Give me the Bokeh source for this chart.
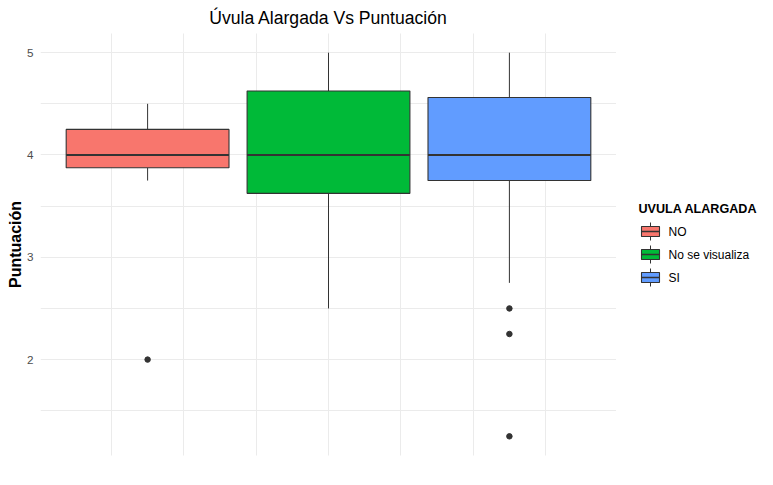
from bokeh.plotting import figure
from bokeh.layouts import row
from bokeh.models import ColumnDataSource, FixedTicker, Grid, Range1d
from bokeh.core.properties import value
from bokeh.embed import file_html
from bokeh.resources import INLINE

# ---- data ----
groups = ["NO", "No se visualiza", "SI"]
colors = ["#F8766D", "#00BA38", "#619CFF"]
q1 = [3.875, 3.625, 3.75]
median = [4.0, 4.0, 4.0]
q3 = [4.25, 4.625, 4.5625]
whisker_low = [3.75, 2.5, 2.75]
whisker_high = [4.5, 5.0, 5.0]
outlier_group = ["NO", "SI", "SI", "SI"]
outlier_value = [2.0, 2.5, 2.25, 1.25]

y_ticks = [2, 3, 4, 5]
y_minor = [1.5, 2.5, 3.5, 4.5]

title_text = "Úvula Alargada Vs Puntuación"
y_label = "Puntuación"
legend_title = "UVULA ALARGADA"

FONT = "Liberation Sans"
EDGE = "#333333"
GRID = "#EBEBEB"
FW, FH = 576, 422

# dodge positions for a single boxplot split by fill
dodge = 0.25
box_w = 0.225
xpos = [(i - (len(groups) - 1) / 2) * dodge for i in range(len(groups))]
out_x = [xpos[groups.index(g)] for g in outlier_group]

src = ColumnDataSource(dict(x=xpos, q1=q1, q3=q3, med=median, lo=whisker_low,
                            hi=whisker_high, color=colors,
                            left=[x - box_w / 2 for x in xpos],
                            right=[x + box_w / 2 for x in xpos]))
osrc = ColumnDataSource(dict(x=out_x, y=outlier_value))

p = figure(frame_width=FW, frame_height=FH, output_backend="svg", toolbar_location=None,
           x_range=Range1d(-0.398, 0.398), y_range=Range1d(1.0625, 5.1875),
           x_axis_location=None, min_border_left=32, min_border_right=0,
           min_border_bottom=17, min_border_top=0, title=title_text,
           margin=(0, 0, 0, 3))
p.outline_line_color = None
p.background_fill_color = "white"

p.title.text_font = FONT
p.title.text_font_size = "17.6px"
p.title.text_font_style = "normal"
p.title.align = "center"
p.title.text_color = "black"
p.title.standoff = 11

# grids
p.ygrid.ticker = FixedTicker(ticks=y_ticks, minor_ticks=y_minor)
p.ygrid.grid_line_color = GRID
p.ygrid.minor_grid_line_color = GRID
p.ygrid.grid_line_width = 1
p.ygrid.minor_grid_line_width = 1
xg = Grid(dimension=0, ticker=FixedTicker(ticks=[-0.2, 0.0, 0.2],
                                          minor_ticks=[-0.3, -0.1, 0.1, 0.3]),
          grid_line_color=GRID, minor_grid_line_color=GRID,
          grid_line_width=1, minor_grid_line_width=1)
p.add_layout(xg)

# y axis
ya = p.yaxis[0]
ya.ticker = FixedTicker(ticks=y_ticks, minor_ticks=y_minor)
ya.axis_line_color = None
ya.major_tick_line_color = None
ya.minor_tick_line_color = None
ya.major_tick_out = 0
ya.major_tick_in = 0
ya.minor_tick_out = 0
ya.minor_tick_in = 0
ya.major_label_text_color = "#4D4D4D"
ya.major_label_text_font = FONT
ya.major_label_text_font_size = "11.7px"
ya.major_label_standoff = 7
ya.axis_label = y_label
ya.axis_label_text_font = FONT
ya.axis_label_text_font_size = "16px"
ya.axis_label_text_font_style = "bold"
ya.axis_label_text_color = "black"
ya.axis_label_standoff = 0

# whiskers
p.segment(x0="x", y0="q3", x1="x", y1="hi", source=src, line_color=EDGE, line_width=1)
p.segment(x0="x", y0="lo", x1="x", y1="q1", source=src, line_color=EDGE, line_width=1)
# boxes
p.quad(left="left", right="right", bottom="q1", top="q3", source=src,
       fill_color="color", line_color=EDGE, line_width=1.1)
p.segment(x0="left", y0="med", x1="right", y1="med", source=src,
          line_color=EDGE, line_width=2.1)
# outliers
p.scatter(x="x", y="y", source=osrc, size=5.5, color=EDGE)

# ---- legend panel (pixel-like coordinates from the frame top, y downwards) ----
LW = 149
lg = figure(frame_width=LW, frame_height=FH, output_backend="svg", toolbar_location=None,
            x_range=Range1d(0, LW), y_range=Range1d(FH, 0), title=None,
            x_axis_location=None, y_axis_location=None,
            min_border_left=0, min_border_right=0, min_border_top=0, min_border_bottom=0)
lg.outline_line_color = None
lg.xgrid.visible = False
lg.ygrid.visible = False

key_x0, key_w = 25, 18
key_y0, pitch = 189, 23
key_h, box_pad = 18, 4
label_x = 52
kx_mid = key_x0 + key_w / 2
tops = [key_y0 + i * pitch for i in range(len(groups))]
lsrc = ColumnDataSource(dict(
    x0=[key_x0] * len(groups), x1=[key_x0 + key_w] * len(groups),
    xm=[kx_mid] * len(groups),
    wt=tops, bt=[t + box_pad for t in tops],
    mid=[t + key_h / 2 for t in tops],
    bb=[t + key_h - box_pad for t in tops], wb=[t + key_h for t in tops],
    color=colors, label=groups, lx=[label_x] * len(groups)))
lg.segment(x0="xm", y0="wt", x1="xm", y1="wb", source=lsrc, line_color=EDGE, line_width=1)
lg.quad(left="x0", right="x1", top="bt", bottom="bb", source=lsrc,
        fill_color="color", line_color=EDGE, line_width=1.1)
lg.segment(x0="x0", y0="mid", x1="x1", y1="mid", source=lsrc, line_color=EDGE, line_width=1.6)
lg.text(x="lx", y="mid", text="label", source=lsrc, text_font=value(FONT),
        text_font_size="12px", text_color="black", text_baseline="middle",
        text_align="left")
lg.text(x=[22], y=[175], text=[legend_title], text_font=value(FONT),
        text_font_size="12.6px", text_font_style="bold", text_color="black",
        text_baseline="alphabetic", text_align="left")

layout = row(p, lg)
open("out.html", "w").write(file_html(layout, INLINE))
